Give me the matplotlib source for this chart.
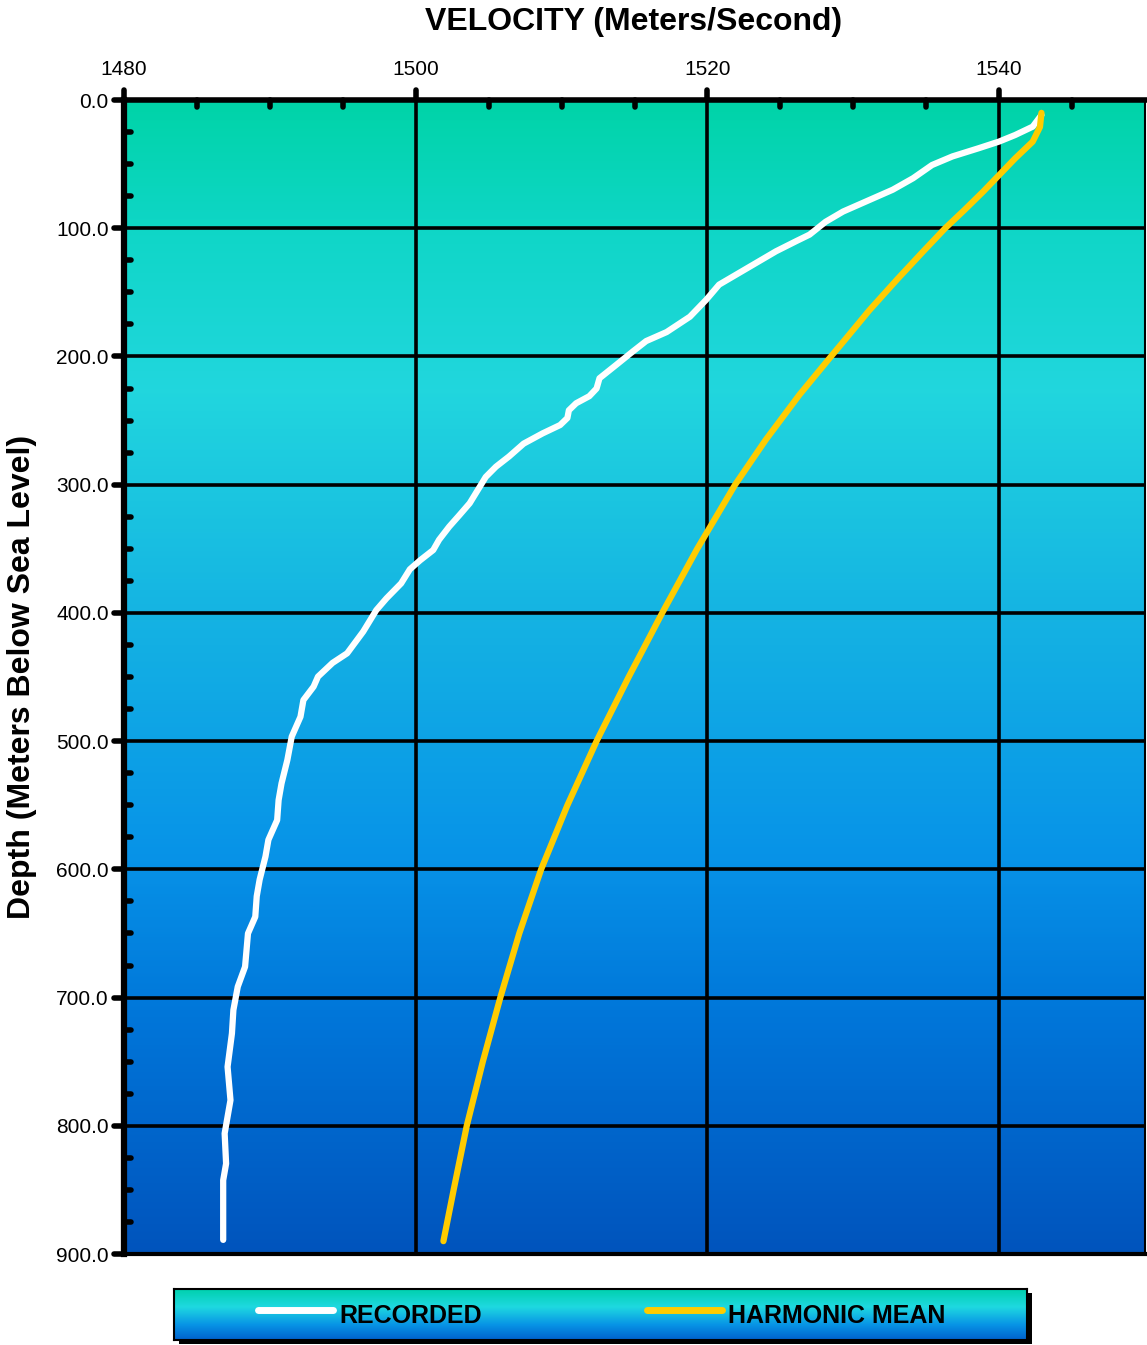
import numpy as np
import matplotlib
matplotlib.use("Agg")
import matplotlib.pyplot as plt
from matplotlib.colors import LinearSegmentedColormap
from matplotlib.patches import Rectangle
from matplotlib.markers import MarkerStyle

plt.rcParams['font.family'] = ['Liberation Sans', 'DejaVu Sans']

# ---------- data ----------
rec_vel = [1542.9, 1542.3, 1541.1, 1540.0, 1538.6, 1536.8, 1535.4, 1534.1, 1532.7,
           1530.9, 1529.3, 1528.1, 1527.0, 1526.1, 1524.7, 1522.9, 1520.8, 1519.9,
           1518.8, 1517.2, 1515.8, 1514.9, 1513.7, 1512.6, 1512.4, 1511.9, 1511.0,
           1510.5, 1510.4, 1509.9, 1508.7, 1507.4, 1506.4, 1505.5, 1504.8, 1504.4,
           1503.7, 1503.0, 1502.3, 1501.6, 1501.2, 1500.3, 1499.6, 1499.0, 1498.0,
           1497.3, 1496.4, 1495.3, 1494.3, 1493.3, 1493.0, 1492.3, 1492.1, 1491.5,
           1491.2, 1490.8, 1490.6, 1490.5, 1489.9, 1489.7, 1489.3, 1489.1, 1489.0,
           1488.5, 1488.4, 1488.3, 1487.8, 1487.5, 1487.4, 1487.1, 1487.3, 1486.9,
           1487.0, 1486.8, 1486.8]
rec_depth = [11.7, 20.8, 27.3, 32.4, 37.6, 44, 50.7, 61, 70,
             79, 87, 95, 105, 110, 118, 130, 144, 156,
             169, 181, 188, 196, 207, 217, 225, 231, 236.5,
             242, 248, 253.5, 260, 268, 278, 286, 294, 301.5,
             314.5, 323.7, 332.7, 343, 351, 359, 366, 377, 388.6,
             397.8, 414.6, 431.5, 439, 449.7, 457.5, 468, 481, 496.5,
             514.7, 533, 546, 561.6, 577, 590, 608, 621, 637,
             650, 663, 676, 691.5, 709.7, 728, 754, 780, 806,
             829.5, 842.5, 889]

hm_vel = [1542.9, 1542.8, 1542.3, 1541.1, 1540.0, 1538.9, 1537.6, 1536.3, 1534.8,
          1533.0, 1531.1, 1529.5, 1528.4, 1526.3, 1524.0, 1521.9, 1519.3, 1516.9,
          1514.6, 1512.4, 1510.4, 1508.6, 1507.1, 1505.8, 1504.6, 1503.5, 1502.6,
          1501.9]
hm_depth = [10, 21, 32.5, 45.5, 58.5, 71.5, 86, 100, 118,
            140, 164, 186, 201, 230, 265, 300, 350, 400,
            450, 500, 550, 600, 650, 700, 750, 800, 850,
            890]

x_ticks = [1480, 1500, 1520, 1540]
y_ticks = [0, 100, 200, 300, 400, 500, 600, 700, 800, 900]
series_names = ["RECORDED", "HARMONIC MEAN"]
series_colors = ["white", "#FFCC00"]

# ---------- figure ----------
fig = plt.figure(figsize=(11.47, 13.45), dpi=100)
ax = fig.add_axes([124 / 1147, 1 - 1254 / 1345, 1021 / 1147, 1154 / 1345])

# background gradient (by depth)
bg = LinearSegmentedColormap.from_list("sea", [
    (0.0, (0.00, 0.83, 0.66)),
    (0.11, (0.06, 0.84, 0.78)),
    (0.25, (0.13, 0.84, 0.87)),
    (0.45, (0.08, 0.70, 0.89)),
    (0.65, (0.03, 0.58, 0.91)),
    (0.80, (0.00, 0.46, 0.85)),
    (1.0, (0.00, 0.33, 0.74)),
])
grad = np.linspace(0, 1, 400).reshape(-1, 1)
ax.imshow(grad, cmap=bg, aspect='auto', extent=[1480, 1550, 900, 0], zorder=0)

ax.set_xlim(1480, 1550)
ax.set_ylim(900, 0)

ax.plot(rec_vel, rec_depth, color=series_colors[0], lw=4.5,
        solid_capstyle='round', solid_joinstyle='round', zorder=3)
ax.plot(hm_vel, hm_depth, color=series_colors[1], lw=4.5,
        solid_capstyle='round', solid_joinstyle='round', zorder=4)

# grid
for xv in x_ticks[1:]:
    ax.axvline(xv, color='black', lw=2.6, zorder=2)
for yv in y_ticks[1:-1]:
    ax.axhline(yv, color='black', lw=2.6, zorder=2)

# spines
ax.spines['top'].set_linewidth(4)
ax.spines['left'].set_linewidth(4.5)
ax.spines['bottom'].set_linewidth(3)
ax.spines['right'].set_linewidth(1.5)
for s in ax.spines.values():
    s.set_zorder(5)

# ticks
ax.xaxis.tick_top()
ax.set_xticks(x_ticks)
ax.set_xticks(np.arange(1485, 1550, 5), minor=True)
ax.set_yticks(y_ticks)
ax.set_yticks(np.arange(25, 900, 25), minor=True)
ax.set_yticklabels([f"{v:.1f}" for v in y_ticks])
ax.tick_params(which='major', direction='out', length=7, width=4, labelsize=15)
ax.tick_params(axis='x', which='major', pad=8)
ax.tick_params(axis='y', which='major', pad=4)
ax.tick_params(which='minor', direction='in', length=5, width=4)
ax.tick_params(axis='x', which='minor', top=True, bottom=False)

# rounded tick ends
for tk in (ax.xaxis.get_major_ticks() + ax.xaxis.get_minor_ticks()
           + ax.yaxis.get_major_ticks() + ax.yaxis.get_minor_ticks()):
    for ln in (tk.tick1line, tk.tick2line):
        ln.set_marker(MarkerStyle(ln.get_marker(), capstyle='round'))

fig.text(634 / 1147, 1 - 22 / 1345, "VELOCITY (Meters/Second)", ha='center', va='center',
         fontsize=23, fontweight='bold')
fig.text(22 / 1147, 1 - 677 / 1345, "Depth (Meters Below Sea Level)", ha='center', va='center',
         rotation=90, fontsize=23, fontweight='bold')

# ---------- legend box ----------
lx0, lx1, ly0, ly1 = 174, 1027, 1289, 1340
fig.patches.append(Rectangle(((lx0 + 5) / 1147, 1 - (ly1 + 4) / 1345), (lx1 - lx0) / 1147,
                             (ly1 - ly0) / 1345, transform=fig.transFigure,
                             facecolor='black', edgecolor='none', zorder=-1))
lax = fig.add_axes([lx0 / 1147, 1 - ly1 / 1345, (lx1 - lx0) / 1147, (ly1 - ly0) / 1345])
lax.set_zorder(2)
lg = LinearSegmentedColormap.from_list("leg", [
    (0.0, (0.00, 0.82, 0.68)),
    (0.35, (0.12, 0.85, 0.88)),
    (0.7, (0.03, 0.58, 0.90)),
    (1.0, (0.00, 0.38, 0.80)),
])
lax.imshow(grad, cmap=lg, aspect='auto', extent=[0, 1, 1, 0])
lax.set_xlim(0, 1)
lax.set_ylim(1, 0)
lax.set_xticks([])
lax.set_yticks([])
for s in lax.spines.values():
    s.set_linewidth(1.5)
w = lx1 - lx0
for name, col, x0, x1, tx in zip(series_names, series_colors,
                                 [258, 647], [333, 722], [339, 728]):
    lax.plot([(x0 - lx0) / w, (x1 - lx0) / w], [0.42, 0.42], color=col, lw=5,
             solid_capstyle='round')
    lax.text((tx - lx0) / w, 0.52, name, ha='left', va='center', fontsize=18,
             fontweight='bold')

fig.savefig("out.png", dpi=100)
